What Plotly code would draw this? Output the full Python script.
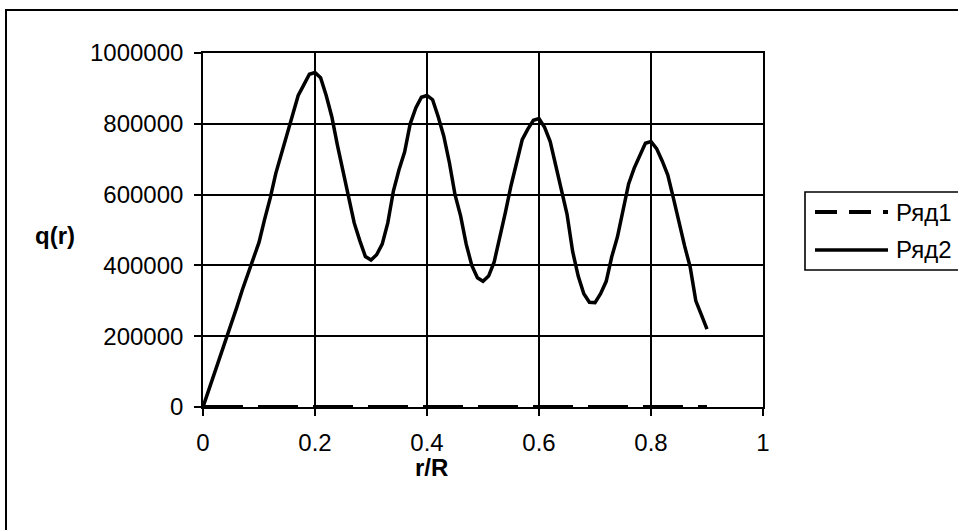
import plotly.graph_objects as go

r_R = [0.00, 0.01, 0.02, 0.03, 0.04, 0.05, 0.06, 0.07, 0.08, 0.09,
       0.10, 0.11, 0.12, 0.13, 0.14, 0.15, 0.16, 0.17, 0.18, 0.19,
       0.20, 0.21, 0.22, 0.23, 0.24, 0.25, 0.26, 0.27, 0.28, 0.29,
       0.30, 0.31, 0.32, 0.33, 0.34, 0.35, 0.36, 0.37, 0.38, 0.39,
       0.40, 0.41, 0.42, 0.43, 0.44, 0.45, 0.46, 0.47, 0.48, 0.49,
       0.50, 0.51, 0.52, 0.53, 0.54, 0.55, 0.56, 0.57, 0.58, 0.59,
       0.60, 0.61, 0.62, 0.63, 0.64, 0.65, 0.66, 0.67, 0.68, 0.69,
       0.70, 0.71, 0.72, 0.73, 0.74, 0.75, 0.76, 0.77, 0.78, 0.79,
       0.80, 0.81, 0.82, 0.83, 0.84, 0.85, 0.86, 0.87, 0.88, 0.89,
       0.90]

ryad2 = [0, 46000, 92000, 138000, 184000, 230000, 280000, 330000, 375000, 420000,
         465000, 530000, 590000, 660000, 715000, 775000, 830000, 880000, 910000, 940000,
         945000, 930000, 880000, 820000, 740000, 670000, 600000, 520000, 470000, 425000,
         415000, 430000, 460000, 520000, 610000, 670000, 720000, 800000, 845000, 875000,
         880000, 868000, 820000, 765000, 690000, 600000, 540000, 460000, 400000, 365000,
         355000, 370000, 410000, 475000, 550000, 625000, 690000, 755000, 785000, 810000,
         815000, 790000, 750000, 680000, 610000, 545000, 440000, 370000, 320000, 296000,
         295000, 320000, 355000, 425000, 480000, 560000, 630000, 675000, 712000, 745000,
         750000, 730000, 695000, 655000, 590000, 520000, 455000, 395000, 300000, 260000,
         220000]

ryad1 = [0 for _ in r_R]

series_names = ["Ряд1", "Ряд2"]
x_ticks = [0, 0.2, 0.4, 0.6, 0.8, 1]
x_tick_labels = ["0", "0.2", "0.4", "0.6", "0.8", "1"]
y_ticks = [0, 200000, 400000, 600000, 800000, 1000000]
y_tick_labels = ["0", "200000", "400000", "600000", "800000", "1000000"]

FONT = "Arial, 'Liberation Sans', sans-serif"
FS = 24
DASH = "40px,15px"

W, H = 958, 530
L, R, T, B = 203, 195, 53, 123
pw = W - L - R
ph = H - T - B


def xp(px):
    return (px - L) / pw


def yp(py):
    return (H - B - py) / ph


fig = go.Figure()
fig.add_trace(go.Scatter(x=r_R, y=ryad1, mode="lines", name=series_names[0],
                         line=dict(color="black", width=4, dash=DASH)))
fig.add_trace(go.Scatter(x=r_R, y=ryad2, mode="lines", name=series_names[1],
                         line=dict(color="black", width=3.5)))

axis_common = dict(showgrid=True, gridcolor="black", gridwidth=1.6,
                   showline=True, linecolor="black", linewidth=1.6, mirror=True,
                   ticks="outside", ticklen=7, tickcolor="black", tickwidth=1.6,
                   zeroline=False, fixedrange=True,
                   tickfont=dict(family=FONT, size=FS, color="black"))

shapes = [
    dict(type="rect", xref="paper", yref="paper",
         x0=xp(6), x1=xp(1000), y0=yp(580), y1=yp(10),
         line=dict(color="black", width=2), fillcolor="rgba(0,0,0,0)",
         layer="below"),
    # legend box
    dict(type="rect", xref="paper", yref="paper",
         x0=xp(805), x1=xp(1000), y0=yp(270), y1=yp(192),
         line=dict(color="black", width=1.6), fillcolor="white"),
    dict(type="line", xref="paper", yref="paper",
         x0=xp(815), x1=xp(888), y0=yp(212), y1=yp(212),
         line=dict(color="black", width=4, dash="22px,12px")),
    dict(type="line", xref="paper", yref="paper",
         x0=xp(815), x1=xp(888), y0=yp(250), y1=yp(250),
         line=dict(color="black", width=3.5)),
]

annotations = [
    dict(text="<b>q(r)</b>", xref="paper", yref="paper",
         x=xp(55), y=yp(236), xanchor="center", yanchor="middle",
         showarrow=False, font=dict(family=FONT, size=FS, color="black")),
    dict(text="<b>r/R</b>", xref="paper", yref="paper",
         x=xp(431), y=yp(468), xanchor="center", yanchor="middle",
         showarrow=False, font=dict(family=FONT, size=FS, color="black")),
    dict(text=series_names[0], xref="paper", yref="paper",
         x=xp(894), y=yp(212), xanchor="left", yanchor="middle",
         showarrow=False, font=dict(family=FONT, size=FS, color="black")),
    dict(text=series_names[1], xref="paper", yref="paper",
         x=xp(894), y=yp(250), xanchor="left", yanchor="middle",
         showarrow=False, font=dict(family=FONT, size=FS, color="black")),
]

fig.update_layout(
    width=W, height=H,
    margin=dict(l=L, r=R, t=T, b=B),
    paper_bgcolor="white", plot_bgcolor="white",
    font=dict(family=FONT, size=FS, color="black"),
    showlegend=False,
    xaxis=dict(range=[0, 1], tickvals=x_ticks, ticktext=x_tick_labels,
               ticklabelstandoff=6, **axis_common),
    yaxis=dict(range=[0, 1000000], tickvals=y_ticks, ticktext=y_tick_labels,
               ticklabelstandoff=6, **axis_common),
    annotations=annotations,
    shapes=shapes,
)

fig.write_html("out.html")
